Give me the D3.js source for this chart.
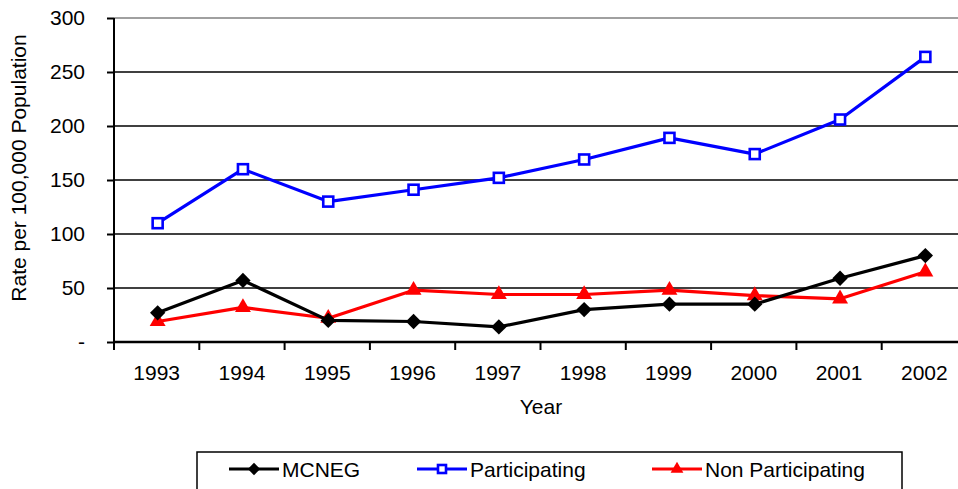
<!DOCTYPE html>
<html><head><meta charset="utf-8">
<script src="https://cdn.jsdelivr.net/npm/d3@7"></script>
<style>body{margin:0;background:#fff;} svg{display:block;font-family:"Liberation Sans",Arial,sans-serif;}</style>
</head><body>
<svg id="c" width="958" height="489"></svg>
<script>
const years = ["1993","1994","1995","1996","1997","1998","1999","2000","2001","2002"];
const mcneg = [27, 57, 20, 19, 14, 30, 35, 35, 59, 80];
const participating = [110, 160, 130, 141, 152, 169, 189, 174, 206, 264];
const nonParticipating = [19, 32, 22, 48, 44, 44, 48, 43, 40, 65];
const yTicks = [0, 50, 100, 150, 200, 250, 300];
const seriesNames = ["MCNEG", "Participating", "Non Participating"];

const FS = 21;
const svg = d3.select("#c");
const L = 114, R = 967, T = 18, B = 342;
const x = d3.scaleBand().domain(years).range([L, R]);
const y = d3.scaleLinear().domain([0, 300]).range([B, T]);

// gridlines
svg.append("g").selectAll("line").data(yTicks.filter(d => d > 0)).join("line")
  .attr("x1", L).attr("x2", R).attr("y1", d => y(d)).attr("y2", d => y(d))
  .attr("stroke", d => d === 300 ? "#808080" : "#000").attr("stroke-width", 1.5);

// y axis
const ya = svg.append("g").attr("transform", `translate(${L},0)`)
  .call(d3.axisLeft(y).tickValues(yTicks).tickSize(7).tickPadding(22).tickFormat(d => d === 0 ? "-" : d));
ya.select(".domain").attr("stroke", "#000").attr("stroke-width", 2).attr("d", `M0,${T}V${B}`);
ya.selectAll(".tick line").attr("stroke", "#000").attr("stroke-width", 2);
ya.selectAll("text").attr("font-size", FS).attr("fill", "#000").attr("font-family", "Liberation Sans, Arial, sans-serif");

// x axis
const xa = svg.append("g").attr("transform", `translate(0,${B})`)
  .call(d3.axisBottom(x).tickSize(0).tickPadding(23));
xa.select(".domain").attr("stroke", "#000").attr("stroke-width", 2.5).attr("d", `M${L},0H${R}`);
xa.selectAll("text").attr("font-size", FS).attr("fill", "#000").attr("font-family", "Liberation Sans, Arial, sans-serif");
// category separator ticks
svg.append("g").selectAll("line").data(years).join("line")
  .attr("x1", d => x(d)).attr("x2", d => x(d)).attr("y1", B).attr("y2", B + 8)
  .attr("stroke", "#000").attr("stroke-width", 2);

// titles
svg.append("text").attr("x", 541).attr("y", 414).attr("text-anchor", "middle")
  .attr("font-size", FS).text("Year");
svg.append("text").attr("transform", "translate(26,168) rotate(-90)").attr("text-anchor", "middle")
  .attr("font-size", FS).text("Rate per 100,000 Population");

const cx = d => x(d) + x.bandwidth() / 2 + 1;
const line = d3.line().x((d, i) => cx(years[i])).y(d => y(d));
const diamond = d3.symbol().type(d3.symbolDiamond2).size(150);
const tri = d3.symbol().type(d3.symbolTriangle).size(110);

const series = [
  {name: seriesNames[0], vals: mcneg, color: "#000"},
  {name: seriesNames[1], vals: participating, color: "#0000ff"},
  {name: seriesNames[2], vals: nonParticipating, color: "#ff0000"}
];

function marker(g, s, px, py, sc) {
  sc = sc || 1;
  if (s.name === "MCNEG") {
    g.append("path").attr("d", diamond()).attr("transform", `translate(${px},${py}) scale(${sc})`).attr("fill", "#000");
  } else if (s.name === "Participating") {
    const h = 5 * sc;
    g.append("rect").attr("x", px - h).attr("y", py - h).attr("width", 2 * h).attr("height", 2 * h)
      .attr("fill", "#fff").attr("stroke", "#0000ff").attr("stroke-width", 2.6);
  } else {
    g.append("path").attr("d", tri()).attr("transform", `translate(${px},${py}) scale(${sc})`).attr("fill", "#ff0000");
  }
}

// draw in order: participating, non participating, mcneg
[series[1], series[2], series[0]].forEach(s => {
  const g = svg.append("g");
  g.append("path").datum(s.vals).attr("d", line).attr("fill", "none")
    .attr("stroke", s.color).attr("stroke-width", 3.2).attr("stroke-linejoin", "round");
  s.vals.forEach((v, i) => marker(g, s, cx(years[i]), y(v)));
});

// legend
const lg = svg.append("g");
lg.append("rect").attr("x", 197).attr("y", 452).attr("width", 705).attr("height", 45)
  .attr("fill", "#fff").attr("stroke", "#000").attr("stroke-width", 1.5);
const legX = [229, 417, 652];
series.forEach((s, i) => {
  const g = lg.append("g");
  const ly = 469;
  g.append("line").attr("x1", legX[i]).attr("x2", legX[i] + 50).attr("y1", ly).attr("y2", ly)
    .attr("stroke", s.color).attr("stroke-width", 3.2);
  marker(g, s, legX[i] + 25, ly, 0.8);
  g.append("text").attr("x", legX[i] + 53).attr("y", ly + 8).attr("font-size", FS).text(s.name);
});
</script>
</body></html>
